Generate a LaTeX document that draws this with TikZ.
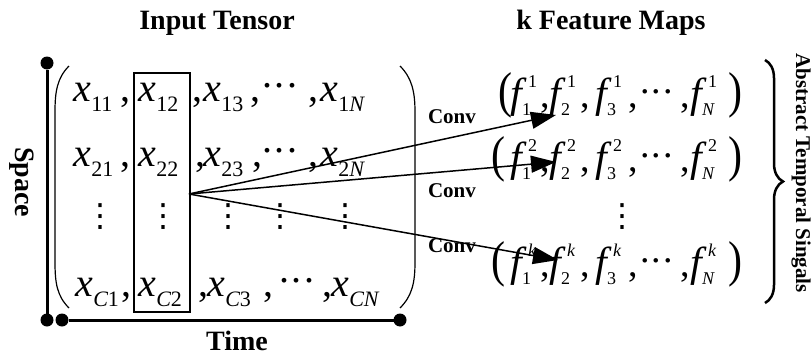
\documentclass[tikz,border=0pt]{standalone}
\usepackage{fontspec}
\setmainfont{Liberation Serif}[ItalicFont={Liberation Serif Italic},BoldFont={Liberation Serif Bold}]
\newfontfamily\itf{Liberation Serif Italic}
\newfontfamily\djv{DejaVu Sans}
\usetikzlibrary{arrows.meta,decorations.pathreplacing}
\newcommand\subsz{\fontsize{22}{22}\selectfont}
\newcommand\fsz{\fontsize{18}{18}\selectfont}
\newcommand\iv[1]{{\itf #1}}
\newcommand\xe[1]{\iv{x}\kern0.5pt\raisebox{-10pt}{\subsz #1}}
\newcommand\fe[2]{\iv{f}\rlap{\kern6.5pt\raisebox{20pt}{\fsz #1}}\kern0.5pt\raisebox{-8pt}{\fsz #2}}
\newcommand\hdts{\raisebox{0.35em}{.\kern2.5pt.\kern2.5pt.}}
\newcommand\lp{\scalebox{1}[1.2]{(}}
\newcommand\rp{\scalebox{1}[1.2]{)}}
\begin{document}
\begin{tikzpicture}[x=1pt,y=-1pt,
  every node/.style={inner sep=0pt,outer sep=0pt},
  mx/.style={anchor=base west,font=\fontsize{40}{40}\selectfont},
  fx/.style={anchor=base west,font=\fontsize{42}{42}\selectfont},
  fc/.style={anchor=base west,font=\fontsize{38}{38}\selectfont},
  lbl/.style={font=\bfseries\fontsize{28}{28}\selectfont},
  conv/.style={font=\bfseries\fontsize{21}{21}\selectfont},
  vd/.style={font=\djv\fontsize{32}{32}\selectfont},
  axis/.style={line width=3pt},
  bdot/.style={circle,fill=black,minimum size=13pt},
  paren/.style={line width=1.2pt},
  arr/.style={line width=1.5pt,-{Triangle[length=25pt,width=17pt]}}]
\useasboundingbox (0,0) rectangle (812,356);

% titles
\node[lbl] (tin) at (217,23) {Input Tensor};
\node[lbl] (tfm) at (611,23) {k Feature Maps};
\node[lbl,rotate=-90] (tsp) at (22,182) {Space};
\node[lbl] (tti) at (237,341) {Time};
\node[font=\bfseries\fontsize{21}{21}\selectfont,rotate=-90] (tab) at (801,173) {Abstract Temporal Singals};

% axes
\node[bdot] (vt) at (47,63) {};
\node[bdot] (vb) at (47,320) {};
\node[bdot] (hl) at (62,320) {};
\node[bdot] (hr) at (400,320) {};
\draw[axis] (vt) -- (vb);
\draw[axis] (hl) -- (hr);

% big parentheses
\draw[paren] (69,66) .. controls (57,78) and (55,92) .. (55,112) -- (55,262) .. controls (55,283) and (57,296) .. (69,308);
\draw[paren] (400,66) .. controls (412,78) and (415,92) .. (415,112) -- (415,262) .. controls (415,283) and (412,296) .. (400,308);

% matrix row 1
\node[mx] (x11) at (73,101) {\xe{11}};
\node[mx] (c11) at (120,101) {,};
\node[mx] (x12) at (138,101) {\xe{12}};
\node[mx] (c12) at (192,101) {,};
\node[mx] (x13) at (203,101) {\xe{13}};
\node[mx] (c13) at (250,101) {,};
\node[mx] (d1) at (262,101) {\hdts};
\node[mx] (c14) at (308,101) {,};
\node[mx] (x1n) at (320,101) {\xe{1\iv{N}}};
% row 2
\node[mx] (x21) at (73,166) {\xe{21}};
\node[mx] (c21) at (120,166) {,};
\node[mx] (x22) at (138,166) {\xe{22}};
\node[mx] (c22) at (195,166) {,};
\node[mx] (x23) at (203,166) {\xe{23}};
\node[mx] (c23) at (252,166) {,};
\node[mx] (d2) at (262,166) {\hdts};
\node[mx] (c24) at (308,166) {,};
\node[mx] (x2n) at (320,166) {\xe{2\iv{N}}};
% vdots
\foreach \i/\xx in {1/100,2/163,3/228,4/280,5/345}
  \node[vd] (v\i) at (\xx,217) {⋮};
% row C
\node[mx] (xc1) at (75,296) {\xe{\iv{C}1}};
\node[mx] (cc1) at (121,296) {,};
\node[mx] (xc2) at (138,296) {\xe{\iv{C}2}};
\node[mx] (cc2) at (198,296) {,};
\node[mx] (xc3) at (207,296) {\xe{\iv{C}3}};
\node[mx] (cc3) at (263,296) {,};
\node[mx] (dc) at (279,296) {\hdts};
\node[mx] (cc4) at (322,296) {,};
\node[mx] (xcn) at (331,296) {\xe{\iv{CN}}};

% column box
\node[draw,line width=1.2pt,minimum width=56pt,minimum height=239pt] (col) at (162,192.5) {};

% feature rows
\foreach \r/\yy/\s/\lx in {1/107/1/498,2/171/2/491,k/276/\iv{k}/491}{
  \node[fx] (lp\r) at (\lx,\yy) {\lp};
  \node[fx] (f1\r) at (510,\yy) {\fe{\s}{1}};
  \node[fc] (k1\r) at (540,\yy) {,};
  \node[fx] (f2\r) at (549,\yy) {\fe{\s}{2}};
  \node[fc] (k2\r) at (580,\yy) {,};
  \node[fx] (f3\r) at (595,\yy) {\fe{\s}{3}};
  \node[fc] (k3\r) at (628,\yy) {,};
  \node[fc] (dd\r) at (640,\yy) {\hdts};
  \node[fc] (k4\r) at (680,\yy) {,};
  \node[fx] (fn\r) at (690,\yy) {\fe{\s}{\iv{N}}};
  \node[fx] (rp\r) at (728,\yy) {\rp};
}
\node[vd] (vf) at (622,217) {⋮};

% brace
\coordinate (bt) at (765,60);
\coordinate (bb) at (765,303);
\draw[line width=2.5pt,decorate,decoration={brace,amplitude=18pt}] (bt) -- (bb);

% arrows
\coordinate (t1) at (556,115);
\coordinate (t2) at (556,162);
\coordinate (t3) at (558,260);
\coordinate (o) at (189,194);
\draw[arr] (o) -- (t1);
\draw[arr] (o) -- (t2);
\draw[arr] (o) -- (t3);
\node[conv] (cv1) at (452,117) {Conv};
\node[conv] (cv2) at (452,191) {Conv};
\node[conv] (cv3) at (452,246) {Conv};
\end{tikzpicture}
\end{document}
